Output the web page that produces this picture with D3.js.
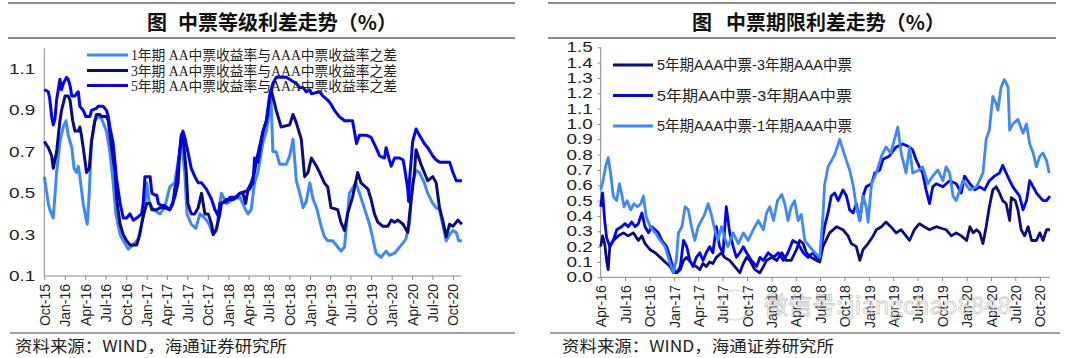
<!DOCTYPE html>
<html><head><meta charset="utf-8">
<script src="https://cdn.jsdelivr.net/npm/d3@7/dist/d3.min.js"></script>
<style>
html,body{margin:0;padding:0;background:#fff;}
svg{display:block;}
</style></head>
<body><svg id="c" width="1080" height="358"></svg>
<script>
// ---------------- DATA ----------------
const titlePrefix = "图";
const leftTitle = "中票等级利差走势（%）";
const rightTitle = "中票期限利差走势（%）";
const sourceText = "资料来源：WIND，海通证券研究所";
const leftLegend = ["1年期 AA中票收益率与AAA中票收益率之差","3年期 AA中票收益率与AAA中票收益率之差","5年期 AA中票收益率与AAA中票收益率之差"];
const rightLegend = ["5年期AAA中票-3年期AAA中票","5年期AA中票-3年期AA中票","5年期AAA中票-1年期AAA中票"];
const leftYTicks = [0.1,0.3,0.5,0.7,0.9,1.1];
const rightYTicks = [0,0.1,0.2,0.3,0.4,0.5,0.6,0.7,0.8,0.9,1.0,1.1,1.2,1.3,1.4,1.5];

// Left chart: AA minus AAA yield spread
const spread1Y = [["2015-10-01",0.58],["2015-10-19",0.45],["2015-10-26",0.42],["2015-11-10",0.38],["2015-11-25",0.60],["2015-12-10",0.75],["2015-12-25",0.82],["2016-01-06",0.85],["2016-01-16",0.78],["2016-02-01",0.72],["2016-02-11",0.62],["2016-02-22",0.60],["2016-03-01",0.63],["2016-03-08",0.58],["2016-03-23",0.45],["2016-04-04",0.38],["2016-04-10",0.35],["2016-04-19",0.50],["2016-04-29",0.75],["2016-05-14",0.85],["2016-05-29",0.87],["2016-06-13",0.86],["2016-07-05",0.80],["2016-07-20",0.70],["2016-08-04",0.55],["2016-08-16",0.40],["2016-09-04",0.30],["2016-09-18",0.27],["2016-10-10",0.23],["2016-11-02",0.25],["2016-11-24",0.28],["2016-12-09",0.35],["2016-12-24",0.45],["2017-01-01",0.55],["2017-01-13",0.45],["2017-02-01",0.42],["2017-03-01",0.40],["2017-03-22",0.43],["2017-04-14",0.53],["2017-05-06",0.55],["2017-06-05",0.75],["2017-06-20",0.60],["2017-06-30",0.40],["2017-07-19",0.35],["2017-08-08",0.33],["2017-08-27",0.40],["2017-09-18",0.38],["2017-10-07",0.35],["2017-10-25",0.30],["2017-11-09",0.32],["2017-11-24",0.45],["2017-12-01",0.50],["2017-12-24",0.45],["2018-01-23",0.47],["2018-02-22",0.48],["2018-03-19",0.42],["2018-03-30",0.40],["2018-04-13",0.42],["2018-04-28",0.55],["2018-05-13",0.60],["2018-06-05",0.75],["2018-06-20",0.80],["2018-07-11",0.95],["2018-07-19",0.70],["2018-08-03",0.70],["2018-08-18",0.64],["2018-09-17",0.64],["2018-10-02",0.68],["2018-10-17",0.76],["2018-11-01",0.56],["2018-11-16",0.50],["2018-12-01",0.43],["2018-12-15",0.46],["2018-12-31",0.55],["2019-01-15",0.47],["2019-01-30",0.43],["2019-02-20",0.34],["2019-03-06",0.29],["2019-03-21",0.27],["2019-04-12",0.27],["2019-05-05",0.24],["2019-05-19",0.22],["2019-06-04",0.24],["2019-06-26",0.50],["2019-07-25",0.55],["2019-08-10",0.50],["2019-08-25",0.45],["2019-09-09",0.40],["2019-09-24",0.35],["2019-10-09",0.28],["2019-10-23",0.21],["2019-11-15",0.19],["2019-12-07",0.22],["2019-12-22",0.20],["2020-01-14",0.21],["2020-01-29",0.23],["2020-02-21",0.26],["2020-03-05",0.28],["2020-03-20",0.35],["2020-04-04",0.55],["2020-04-19",0.61],["2020-05-04",0.60],["2020-05-26",0.55],["2020-06-10",0.50],["2020-07-03",0.45],["2020-07-18",0.43],["2020-08-02",0.42],["2020-08-16",0.35],["2020-09-01",0.27],["2020-09-16",0.30],["2020-10-01",0.32],["2020-10-16",0.31],["2020-10-27",0.27],["2020-11-10",0.27]];
const spread3Y = [["2015-10-01",0.75],["2015-10-19",0.72],["2015-11-03",0.68],["2015-11-10",0.62],["2015-11-25",0.70],["2015-12-10",0.85],["2015-12-17",0.90],["2016-01-02",0.97],["2016-01-16",0.97],["2016-01-24",0.95],["2016-02-05",0.85],["2016-02-15",0.80],["2016-03-01",0.80],["2016-03-08",0.82],["2016-03-15",0.78],["2016-03-23",0.72],["2016-04-07",0.60],["2016-04-19",0.62],["2016-04-29",0.75],["2016-05-14",0.85],["2016-05-21",0.88],["2016-06-06",0.88],["2016-06-13",0.87],["2016-07-05",0.87],["2016-07-13",0.85],["2016-07-28",0.72],["2016-08-12",0.60],["2016-08-22",0.45],["2016-09-04",0.35],["2016-09-18",0.30],["2016-10-03",0.27],["2016-10-18",0.25],["2016-11-17",0.25],["2016-12-01",0.30],["2016-12-09",0.35],["2016-12-19",0.40],["2017-01-01",0.45],["2017-01-16",0.45],["2017-01-24",0.42],["2017-02-15",0.42],["2017-03-01",0.43],["2017-03-22",0.43],["2017-04-14",0.42],["2017-05-06",0.48],["2017-05-21",0.55],["2017-05-28",0.70],["2017-06-05",0.78],["2017-06-12",0.78],["2017-06-27",0.60],["2017-07-04",0.45],["2017-07-19",0.40],["2017-08-04",0.40],["2017-08-19",0.43],["2017-09-03",0.50],["2017-09-18",0.40],["2017-10-03",0.40],["2017-10-18",0.35],["2017-10-25",0.30],["2017-11-09",0.33],["2017-11-24",0.40],["2017-12-01",0.45],["2017-12-24",0.47],["2018-01-23",0.47],["2018-02-22",0.50],["2018-03-07",0.50],["2018-03-19",0.45],["2018-03-30",0.52],["2018-04-13",0.55],["2018-04-28",0.60],["2018-05-05",0.65],["2018-06-05",0.80],["2018-06-20",0.85],["2018-07-11",1.00],["2018-08-03",0.90],["2018-08-25",0.82],["2018-10-02",0.83],["2018-10-17",0.88],["2018-11-01",0.84],["2018-11-23",0.76],["2018-12-08",0.58],["2018-12-23",0.60],["2019-01-07",0.67],["2019-01-30",0.63],["2019-02-13",0.60],["2019-03-06",0.55],["2019-03-21",0.53],["2019-04-05",0.43],["2019-05-05",0.42],["2019-05-19",0.36],["2019-06-04",0.32],["2019-06-18",0.40],["2019-07-10",0.48],["2019-08-02",0.60],["2019-08-17",0.55],["2019-09-17",0.52],["2019-10-01",0.47],["2019-10-16",0.40],["2019-10-31",0.36],["2019-11-23",0.34],["2019-12-15",0.34],["2019-12-30",0.37],["2020-01-14",0.36],["2020-01-29",0.37],["2020-02-21",0.35],["2020-03-13",0.31],["2020-03-28",0.47],["2020-04-12",0.60],["2020-04-19",0.71],["2020-05-11",0.64],["2020-05-26",0.60],["2020-06-10",0.56],["2020-07-03",0.58],["2020-07-18",0.55],["2020-08-02",0.43],["2020-08-16",0.37],["2020-09-01",0.29],["2020-09-16",0.35],["2020-10-01",0.34],["2020-10-23",0.37],["2020-11-10",0.35]];
const spread5Y = [["2015-10-01",1.00],["2015-10-19",0.99],["2015-10-26",0.95],["2015-11-03",0.87],["2015-11-10",0.83],["2015-11-18",0.86],["2015-11-25",0.95],["2015-12-10",1.05],["2015-12-17",1.00],["2015-12-25",1.03],["2016-01-09",1.06],["2016-01-16",1.05],["2016-01-24",1.02],["2016-02-01",0.97],["2016-02-15",0.97],["2016-02-22",0.98],["2016-03-01",0.99],["2016-03-08",0.92],["2016-03-23",0.90],["2016-04-04",0.87],["2016-04-22",0.87],["2016-04-29",0.90],["2016-05-21",0.91],["2016-05-29",0.92],["2016-06-20",0.92],["2016-07-05",0.90],["2016-07-13",0.87],["2016-07-20",0.82],["2016-08-04",0.74],["2016-08-19",0.57],["2016-09-04",0.45],["2016-09-18",0.38],["2016-10-03",0.38],["2016-10-18",0.40],["2016-11-02",0.37],["2016-11-17",0.38],["2016-12-09",0.40],["2016-12-16",0.45],["2016-12-24",0.58],["2017-01-16",0.58],["2017-01-24",0.50],["2017-02-08",0.49],["2017-02-15",0.49],["2017-02-22",0.45],["2017-03-08",0.44],["2017-03-22",0.44],["2017-04-14",0.42],["2017-04-28",0.45],["2017-05-06",0.52],["2017-05-13",0.55],["2017-05-28",0.70],["2017-06-05",0.78],["2017-06-12",0.80],["2017-06-20",0.77],["2017-07-04",0.70],["2017-07-19",0.62],["2017-08-04",0.58],["2017-08-19",0.55],["2017-09-03",0.55],["2017-09-25",0.52],["2017-10-18",0.47],["2017-11-02",0.42],["2017-11-17",0.39],["2017-11-24",0.45],["2017-12-24",0.46],["2018-01-08",0.48],["2018-02-07",0.48],["2018-02-22",0.50],["2018-03-22",0.51],["2018-04-06",0.52],["2018-04-21",0.55],["2018-04-28",0.67],["2018-05-13",0.65],["2018-06-05",0.80],["2018-06-20",0.85],["2018-07-04",0.97],["2018-07-19",1.03],["2018-08-03",1.06],["2018-09-17",1.06],["2018-10-17",1.04],["2018-11-01",1.03],["2018-11-16",1.01],["2018-12-01",1.01],["2018-12-15",0.99],["2018-12-31",1.00],["2019-01-07",0.98],["2019-02-13",0.99],["2019-02-27",0.97],["2019-03-21",0.95],["2019-04-05",0.93],["2019-04-20",0.90],["2019-05-12",0.87],["2019-06-04",0.85],["2019-07-10",0.85],["2019-07-28",0.74],["2019-08-10",0.78],["2019-09-09",0.78],["2019-10-01",0.77],["2019-10-23",0.72],["2019-11-08",0.68],["2019-11-30",0.67],["2019-12-07",0.72],["2019-12-22",0.66],["2019-12-30",0.63],["2020-01-14",0.67],["2020-02-06",0.67],["2020-02-21",0.66],["2020-02-28",0.62],["2020-03-13",0.52],["2020-03-17",0.46],["2020-03-20",0.55],["2020-04-04",0.75],["2020-04-19",0.81],["2020-05-04",0.78],["2020-05-26",0.74],["2020-06-10",0.72],["2020-07-03",0.68],["2020-07-18",0.66],["2020-08-02",0.65],["2020-09-16",0.65],["2020-10-01",0.60],["2020-10-16",0.56],["2020-11-10",0.56]];

// Right chart: term spreads
const termAAA53 = [["2016-04-01",0.20],["2016-04-08",0.27],["2016-04-16",0.22],["2016-04-23",0.11],["2016-04-29",0.05],["2016-05-05",0.20],["2016-05-18",0.24],["2016-06-06",0.27],["2016-06-25",0.29],["2016-07-13",0.27],["2016-08-01",0.29],["2016-08-20",0.24],["2016-09-02",0.27],["2016-09-14",0.22],["2016-10-03",0.18],["2016-10-22",0.16],["2016-11-10",0.13],["2016-11-28",0.10],["2016-12-17",0.07],["2016-12-29",0.03],["2017-01-11",0.03],["2017-01-24",0.05],["2017-02-05",0.11],["2017-02-17",0.13],["2017-03-07",0.09],["2017-03-25",0.07],["2017-04-07",0.05],["2017-04-19",0.09],["2017-05-01",0.07],["2017-05-14",0.10],["2017-05-26",0.09],["2017-06-08",0.13],["2017-06-27",0.16],["2017-07-09",0.13],["2017-07-28",0.11],["2017-08-16",0.07],["2017-09-04",0.03],["2017-09-17",0.09],["2017-09-29",0.13],["2017-10-11",0.11],["2017-10-30",0.05],["2017-11-18",0.03],["2017-12-01",0.07],["2017-12-13",0.11],["2018-01-01",0.13],["2018-01-20",0.11],["2018-02-08",0.16],["2018-02-25",0.11],["2018-03-15",0.11],["2018-04-04",0.18],["2018-04-16",0.24],["2018-04-29",0.22],["2018-05-11",0.16],["2018-05-29",0.13],["2018-06-18",0.11],["2018-06-30",0.10],["2018-07-12",0.20],["2018-08-06",0.29],["2018-09-01",0.33],["2018-09-25",0.31],["2018-10-14",0.27],["2018-10-26",0.22],["2018-11-14",0.20],["2018-11-27",0.11],["2018-12-09",0.18],["2018-12-28",0.22],["2019-01-16",0.27],["2019-01-28",0.31],["2019-02-16",0.33],["2019-03-05",0.36],["2019-03-23",0.33],["2019-04-12",0.29],["2019-05-01",0.31],["2019-05-19",0.27],["2019-06-01",0.24],["2019-06-19",0.31],["2019-07-08",0.35],["2019-07-26",0.33],["2019-08-15",0.31],["2019-09-09",0.33],["2019-09-28",0.32],["2019-10-16",0.31],["2019-11-05",0.27],["2019-11-23",0.29],["2019-12-12",0.27],["2020-01-01",0.24],["2020-01-13",0.33],["2020-01-25",0.29],["2020-02-07",0.31],["2020-02-19",0.29],["2020-03-02",0.22],["2020-03-14",0.33],["2020-03-26",0.46],["2020-04-08",0.57],["2020-04-21",0.59],["2020-05-03",0.55],["2020-05-15",0.50],["2020-05-28",0.48],["2020-06-10",0.37],["2020-06-16",0.52],["2020-07-01",0.50],["2020-07-11",0.44],["2020-07-23",0.31],["2020-08-05",0.27],["2020-08-18",0.33],["2020-08-31",0.24],["2020-09-18",0.24],["2020-10-01",0.29],["2020-10-13",0.24],["2020-10-26",0.31],["2020-11-08",0.31]];
const termAA53 = [["2016-04-01",0.46],["2016-04-08",0.55],["2016-04-16",0.37],["2016-04-23",0.26],["2016-05-05",0.20],["2016-05-18",0.24],["2016-05-31",0.31],["2016-06-18",0.33],["2016-07-01",0.35],["2016-07-13",0.33],["2016-07-26",0.36],["2016-08-08",0.33],["2016-08-20",0.35],["2016-09-02",0.42],["2016-09-14",0.33],["2016-09-27",0.29],["2016-10-09",0.33],["2016-10-22",0.31],["2016-11-03",0.29],["2016-11-16",0.24],["2016-12-04",0.20],["2016-12-17",0.13],["2016-12-29",0.05],["2017-01-11",0.03],["2017-01-24",0.07],["2017-02-05",0.24],["2017-02-17",0.20],["2017-03-01",0.11],["2017-03-13",0.07],["2017-03-25",0.13],["2017-04-07",0.16],["2017-04-19",0.11],["2017-05-01",0.16],["2017-05-14",0.20],["2017-05-26",0.16],["2017-06-08",0.33],["2017-06-20",0.20],["2017-07-03",0.16],["2017-07-15",0.46],["2017-07-28",0.29],["2017-08-10",0.20],["2017-08-22",0.13],["2017-09-04",0.16],["2017-09-17",0.20],["2017-09-29",0.16],["2017-10-17",0.11],["2017-11-06",0.07],["2017-11-18",0.13],["2017-12-01",0.11],["2017-12-19",0.16],["2018-01-08",0.13],["2018-01-26",0.16],["2018-02-14",0.11],["2018-03-03",0.16],["2018-03-21",0.24],["2018-04-10",0.22],["2018-04-29",0.16],["2018-05-17",0.13],["2018-06-05",0.16],["2018-06-24",0.11],["2018-06-30",0.13],["2018-07-18",0.33],["2018-07-31",0.42],["2018-08-12",0.53],["2018-08-25",0.55],["2018-09-07",0.50],["2018-09-25",0.57],["2018-10-08",0.53],["2018-10-20",0.44],["2018-11-02",0.42],["2018-11-14",0.48],["2018-11-27",0.37],["2018-12-09",0.53],["2018-12-21",0.59],["2019-01-10",0.61],["2019-01-22",0.68],["2019-02-10",0.70],["2019-02-22",0.77],["2019-03-17",0.79],["2019-04-12",0.85],["2019-05-07",0.87],["2019-06-01",0.85],["2019-06-13",0.83],["2019-06-25",0.77],["2019-07-08",0.72],["2019-07-20",0.68],["2019-08-02",0.57],["2019-08-15",0.48],["2019-08-27",0.59],["2019-09-09",0.61],["2019-10-04",0.59],["2019-10-29",0.63],["2019-11-23",0.61],["2019-12-12",0.55],["2019-12-24",0.66],["2020-01-13",0.61],["2020-02-01",0.57],["2020-02-19",0.59],["2020-03-08",0.57],["2020-03-26",0.63],["2020-04-14",0.66],["2020-05-03",0.68],["2020-05-15",0.73],["2020-05-28",0.68],["2020-06-10",0.63],["2020-06-22",0.59],["2020-07-17",0.53],["2020-07-30",0.44],["2020-08-12",0.50],["2020-08-24",0.63],["2020-09-06",0.59],["2020-09-18",0.55],["2020-10-13",0.50],["2020-10-26",0.50],["2020-11-08",0.53]];
const termAAA51 = [["2016-04-01",0.57],["2016-04-10",0.63],["2016-04-19",0.72],["2016-04-29",0.78],["2016-05-08",0.68],["2016-05-18",0.53],["2016-05-31",0.50],["2016-06-10",0.61],["2016-06-18",0.55],["2016-06-27",0.46],["2016-07-09",0.50],["2016-07-22",0.44],["2016-08-04",0.48],["2016-08-16",0.46],["2016-08-29",0.48],["2016-09-08",0.53],["2016-09-18",0.40],["2016-10-03",0.33],["2016-10-22",0.29],["2016-11-10",0.24],["2016-11-28",0.20],["2016-12-17",0.09],["2016-12-29",0.03],["2017-01-09",0.11],["2017-01-17",0.29],["2017-01-30",0.33],["2017-02-11",0.46],["2017-02-23",0.44],["2017-03-07",0.33],["2017-03-19",0.24],["2017-04-01",0.33],["2017-04-13",0.37],["2017-04-25",0.41],["2017-05-08",0.48],["2017-05-20",0.41],["2017-06-02",0.31],["2017-06-14",0.24],["2017-06-27",0.33],["2017-07-09",0.26],["2017-07-21",0.20],["2017-08-10",0.29],["2017-08-29",0.22],["2017-09-17",0.29],["2017-10-05",0.24],["2017-10-24",0.31],["2017-11-12",0.37],["2017-12-01",0.31],["2017-12-13",0.42],["2017-12-25",0.46],["2018-01-08",0.37],["2018-01-23",0.50],["2018-02-08",0.54],["2018-02-19",0.48],["2018-03-03",0.37],["2018-03-15",0.46],["2018-03-28",0.50],["2018-04-10",0.37],["2018-04-22",0.41],["2018-05-05",0.24],["2018-05-23",0.20],["2018-06-11",0.16],["2018-06-30",0.13],["2018-07-12",0.40],["2018-07-18",0.60],["2018-07-31",0.72],["2018-08-06",0.74],["2018-08-25",0.80],["2018-09-13",0.90],["2018-09-25",0.83],["2018-10-08",0.76],["2018-10-20",0.70],["2018-11-02",0.60],["2018-11-14",0.46],["2018-11-27",0.37],["2018-12-09",0.53],["2018-12-21",0.46],["2018-12-28",0.36],["2019-01-10",0.61],["2019-01-28",0.68],["2019-02-16",0.79],["2019-03-05",0.85],["2019-03-23",0.81],["2019-04-18",0.98],["2019-05-01",0.81],["2019-05-19",0.68],["2019-06-01",0.85],["2019-06-13",0.68],["2019-07-08",0.70],["2019-07-20",0.72],["2019-08-09",0.61],["2019-08-27",0.66],["2019-09-15",0.70],["2019-10-04",0.63],["2019-10-16",0.72],["2019-10-29",0.68],["2019-11-11",0.53],["2019-11-23",0.50],["2019-12-18",0.63],["2020-01-13",0.57],["2020-02-07",0.59],["2020-03-02",0.68],["2020-03-14",0.90],["2020-03-26",0.96],["2020-04-08",1.18],["2020-04-21",1.13],["2020-04-27",1.09],["2020-05-09",1.24],["2020-05-21",1.29],["2020-06-04",1.24],["2020-06-10",0.96],["2020-06-22",1.00],["2020-07-11",1.03],["2020-07-30",0.94],["2020-08-12",1.00],["2020-08-24",0.87],["2020-09-06",0.81],["2020-09-18",0.72],["2020-10-01",0.79],["2020-10-13",0.81],["2020-10-26",0.76],["2020-11-05",0.68]];

const leftColors = ["#3d87ff","#0a0a82","#0000ff"];
const rightColors = ["#0a0a82","#0000ff","#3d87ff"];

// ---------------- DRAW ----------------
const parse = d3.timeParse("%Y-%m-%d");
const svg = d3.select("#c");
const fmtDate = d3.timeFormat("%b-%y");
const fmtNum = d3.format(".1f");
const sans = "'Liberation Sans', Arial, 'Noto Sans CJK SC', sans-serif";
const cjk = "'Noto Sans CJK SC', sans-serif";

function frame(x0, x1, preX, titleX, title, srcX, bx0, bx1) {
  svg.append("line").attr("x1", x0).attr("x2", x1).attr("y1", 3).attr("y2", 3).attr("stroke", "#666").attr("stroke-width", 1.5);
  svg.append("line").attr("x1", x0).attr("x2", x1).attr("y1", 38).attr("y2", 38).attr("stroke", "#666").attr("stroke-width", 1.5);
  svg.append("text").attr("x", preX).attr("y", 30)
    .attr("font-family", cjk).attr("font-weight", "bold").attr("font-size", 20).attr("fill", "#111").text(titlePrefix);
  svg.append("text").attr("x", titleX).attr("y", 30)
    .attr("font-family", cjk).attr("font-weight", "bold").attr("font-size", 20).attr("fill", "#111")
    .attr("textLength", 219).attr("lengthAdjust", "spacingAndGlyphs").text(title);
  svg.append("line").attr("x1", bx0).attr("x2", bx1).attr("y1", 333).attr("y2", 333).attr("stroke", "#444").attr("stroke-width", 1.2);
  svg.append("text").attr("x", srcX).attr("y", 352).attr("font-family", cjk).attr("font-size", 16).attr("fill", "#222")
    .attr("textLength", 272).attr("lengthAdjust", "spacingAndGlyphs").text(sourceText);
}

frame(8, 515, 147, 178, leftTitle, 15, 10, 515);
frame(548, 1056, 692, 726, rightTitle, 562, 550, 1060);

function chart(cfg) {
  const x = d3.scaleTime().domain(cfg.xDomain.map(parse)).range(cfg.xRange);
  const y = d3.scaleLinear().domain(cfg.yDomain).range(cfg.yRange);
  const g = svg.append("g");
  // y axis
  const ya = g.append("g").attr("transform", `translate(${cfg.xRange[0]},0)`)
    .call(d3.axisLeft(y).tickValues(cfg.yTicks).tickFormat(fmtNum).tickSize(cfg.yTickSize).tickPadding(cfg.yPad));
  ya.select(".domain").attr("stroke", "#888").attr("d", `M0,${cfg.yRange[1]}V${cfg.yRange[0]}`);
  ya.selectAll(".tick line").attr("stroke", "#888");
  ya.selectAll(".tick text").attr("font-family", sans).attr("font-size", cfg.yFont).attr("fill", "#222")
    .attr("transform", `scale(${cfg.yStretch},1)`).attr("x", (-cfg.yPad - cfg.yTickSize) / cfg.yStretch);
  // x axis
  const xa = g.append("g").attr("transform", `translate(0,${cfg.yRange[0]})`)
    .call(d3.axisBottom(x).ticks(d3.timeMonth.every(3)).tickFormat(fmtDate).tickSize(4));
  xa.select(".domain").attr("stroke", "#888").attr("d", `M${cfg.xRange[0]},0H${cfg.xRange[1]}`);
  xa.selectAll(".tick line").attr("stroke", "#888");
  xa.selectAll(".tick text").attr("font-family", sans).attr("font-size", 14).attr("fill", "#222")
    .attr("transform", "rotate(-90)").attr("text-anchor", "end").attr("x", -8).attr("y", 0).attr("dy", "0.36em");
  // lines
  const line = d3.line().x(d => x(parse(d[0]))).y(d => y(d[1])).curve(d3.curveLinear);
  cfg.series.forEach((s, i) => {
    g.append("path").datum(s).attr("d", line).attr("fill", "none").attr("stroke", cfg.colors[i])
      .attr("stroke-width", cfg.lw).attr("stroke-linejoin", "round").attr("stroke-linecap", "butt");
  });
  // legend
  cfg.legend.forEach((name, i) => {
    const ly = cfg.legY[i];
    g.append("line").attr("x1", cfg.legX).attr("x2", cfg.legX + cfg.legLen).attr("y1", ly).attr("y2", ly)
      .attr("stroke", cfg.colors[i]).attr("stroke-width", cfg.lw);
    g.append("text").attr("x", cfg.legX + cfg.legLen + cfg.legGap).attr("y", ly).attr("dy", "0.36em")
      .attr("font-family", cfg.legFamily).attr("font-size", cfg.legFont).attr("fill", "#222")
      .attr("textLength", cfg.legTextLen).attr("lengthAdjust", "spacingAndGlyphs").text(name);
  });
}

chart({
  xDomain: ["2015-10-01", "2020-11-06"], xRange: [44.3, 461],
  yDomain: [0.1, 1.2], yRange: [276, 48.3], yTicks: leftYTicks,
  yTickSize: 0, yPad: 9, yFont: 14, yStretch: 1.35,
  series: [spread1Y, spread3Y, spread5Y], colors: leftColors, lw: 3,
  legend: leftLegend, legX: 87, legLen: 41, legGap: 3, legY: [55, 70.5, 85.5],
  legFamily: "'Liberation Serif', 'Noto Sans CJK SC', serif", legFont: 14, legTextLen: 266
});

chart({
  xDomain: ["2016-04-01", "2020-11-08"], xRange: [600.7, 1050],
  yDomain: [0, 1.5], yRange: [277.3, 47.3], yTicks: rightYTicks,
  yTickSize: 3, yPad: 5, yFont: 14, yStretch: 1.35,
  series: [termAAA53, termAA53, termAAA51], colors: rightColors, lw: 2.8,
  legend: rightLegend, legX: 613, legLen: 40, legGap: 4, legY: [65, 95.5, 126],
  legFamily: sans, legFont: 15, legTextLen: 195
});

// faint watermark
const wm = svg.append("g").attr("opacity", 0.55);
wm.append("circle").attr("cx", 735).attr("cy", 305).attr("r", 15).attr("fill", "none").attr("stroke", "#aaa").attr("stroke-width", 1.2);
wm.append("text").attr("x", 764).attr("y", 314).attr("font-family", cjk).attr("font-size", 24)
  .attr("fill", "#fff").attr("stroke", "#999").attr("stroke-width", 0.8).text("微信号: jiangchao8848");
</script></body></html>
